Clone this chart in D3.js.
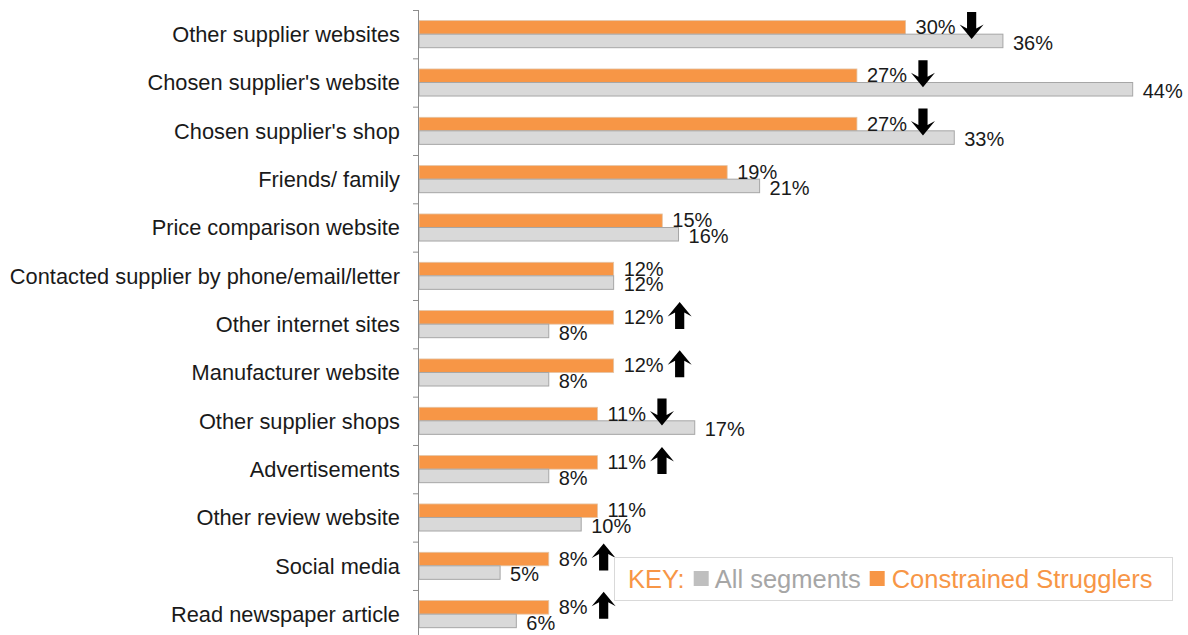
<!DOCTYPE html>
<html>
<head>
<meta charset="utf-8">
<script src="https://cdn.jsdelivr.net/npm/d3@7"></script>
<style>
  html, body { margin: 0; padding: 0; background: #fff; }
  svg { display: block; font-family: "Liberation Sans", Arial, sans-serif; }
</style>
</head>
<body>
<svg id="chart" width="1188" height="635"></svg>
<script>
// Sources used, share of each segment (%)
const categories = [
  "Other supplier websites",
  "Chosen supplier's website",
  "Chosen supplier's shop",
  "Friends/ family",
  "Price comparison website",
  "Contacted supplier by phone/email/letter",
  "Other internet sites",
  "Manufacturer website",
  "Other supplier shops",
  "Advertisements",
  "Other review website",
  "Social media",
  "Read newspaper article"
];
const constrainedStrugglers = [30, 27, 27, 19, 15, 12, 12, 12, 11, 11, 11, 8, 8];
const allSegments          = [36, 44, 33, 21, 16, 12, 8, 8, 17, 8, 10, 5, 6];
// Significant difference vs. all segments: -1 lower, +1 higher, 0 none
const significance         = [-1, -1, -1, 0, 0, 0, 1, 1, -1, 1, 0, 1, 1];

const seriesNames = ["All segments", "Constrained Strugglers"];
const keyTitle = "KEY:";

const ORANGE = "#F79646";
const GREY = "#D9D9D9";
const GREY_EDGE = "#A6A6A6";
const GREY_TEXT = "#A6A6A6";
const INK = "#1a1a1a";

const svg = d3.select("#chart");

const rows = categories.map((c, i) => ({
  name: c,
  cs: constrainedStrugglers[i],
  all: allSegments[i],
  sig: significance[i]
}));

const x = d3.scaleLinear().domain([0, 50]).range([419, 419 + 50 * 16.22]);

const yTop = 10, yBottom = 638.3;
const y = d3.scaleBand()
  .domain(categories)
  .range([yTop, yBottom])
  .paddingInner(0.44)
  .paddingOuter(0.22);
const sub = d3.scaleBand()
  .domain(["cs", "all"])
  .range([0, y.bandwidth()]);
const step = y.step();
const center = name => y(name) + y.bandwidth() / 2;

// Bars
const rowG = svg.append("g").selectAll("g.row").data(rows).join("g")
  .attr("class", "row")
  .attr("transform", d => `translate(0,${y(d.name)})`);

rowG.append("rect")
  .attr("x", x(0))
  .attr("y", sub("cs"))
  .attr("width", d => x(d.cs) - x(0))
  .attr("height", sub.bandwidth())
  .attr("fill", ORANGE)
  .attr("stroke", "#E3C4A6")
  .attr("stroke-width", 0.8);

rowG.append("rect")
  .attr("x", x(0))
  .attr("y", sub("all"))
  .attr("width", d => x(d.all) - x(0))
  .attr("height", sub.bandwidth())
  .attr("fill", GREY)
  .attr("stroke", GREY_EDGE)
  .attr("stroke-width", 1);

// Value labels
const LABEL_SIZE = 20;
const csLabels = rowG.append("text")
  .attr("x", d => x(d.cs) + 10)
  .attr("y", sub("cs") + sub.bandwidth() / 2 - 0.5)
  .attr("dy", "0.36em")
  .attr("font-size", LABEL_SIZE)
  .attr("fill", INK)
  .text(d => d.cs + "%");

rowG.append("text")
  .attr("x", d => x(d.all) + 10)
  .attr("y", sub("all") + sub.bandwidth() / 2 + 1.5)
  .attr("dy", "0.36em")
  .attr("font-size", LABEL_SIZE)
  .attr("fill", INK)
  .text(d => d.all + "%");

// Significance arrows (drawn pointing up, flipped for decreases)
function arrowPath() {
  const h = 13.5, head = 12, shaft = 4.6, neck = 1;
  const pts = [
    [0, -h], [head, neck], [shaft, neck - 4], [shaft, h], [-shaft, h], [-shaft, neck - 4], [-head, neck]
  ];
  return "M" + pts.map(p => p.join(",")).join("L") + "Z";
}
csLabels.each(function (d) {
  if (!d.sig) return;
  const w = this.getComputedTextLength();
  const cx = x(d.cs) + 10 + w + 16;
  const cy = sub("cs") + sub.bandwidth() / 2 - 2;
  d3.select(this.parentNode).append("path")
    .attr("d", arrowPath())
    .attr("fill", "#000")
    .attr("transform", `translate(${cx},${cy})` + (d.sig < 0 ? " scale(1,-1)" : ""));
});

// Axis line with ticks at category boundaries
const axis = svg.append("g").attr("stroke", "#8c8c8c").attr("stroke-width", 1);
axis.append("line")
  .attr("x1", x(0) - 0.5).attr("x2", x(0) - 0.5)
  .attr("y1", yTop).attr("y2", yBottom);
axis.selectAll("line.tick")
  .data(d3.range(categories.length + 1))
  .join("line")
  .attr("class", "tick")
  .attr("x1", x(0) - 6).attr("x2", x(0) - 0.5)
  .attr("y1", i => yTop + i * step + 0.5)
  .attr("y2", i => yTop + i * step + 0.5);

// Category labels
svg.append("g").selectAll("text")
  .data(categories)
  .join("text")
  .attr("x", 400)
  .attr("y", d => center(d))
  .attr("dy", "0.36em")
  .attr("text-anchor", "end")
  .attr("font-size", 21.8)
  .attr("fill", INK)
  .text(d => d);

// Key
const key = svg.append("g");
key.append("rect")
  .attr("x", 614.5).attr("y", 557.5)
  .attr("width", 558).attr("height", 43)
  .attr("fill", "#fff")
  .attr("stroke", "#D9D9D9");
const KEY_SIZE = 25.5;
const keyY = 587.5;
let kx = 628;
const t0 = key.append("text").attr("x", kx).attr("y", keyY)
  .attr("font-size", KEY_SIZE).attr("fill", ORANGE).text(keyTitle);
kx += t0.node().getComputedTextLength() + 9;
key.append("rect").attr("x", kx).attr("y", keyY - 16.5).attr("width", 15).attr("height", 15).attr("fill", "#BFBFBF");
kx += 21;
const t1 = key.append("text").attr("x", kx).attr("y", keyY)
  .attr("font-size", KEY_SIZE).attr("fill", GREY_TEXT).text(seriesNames[0]);
kx += t1.node().getComputedTextLength() + 9;
key.append("rect").attr("x", kx).attr("y", keyY - 16.5).attr("width", 15).attr("height", 15).attr("fill", ORANGE);
kx += 22;
key.append("text").attr("x", kx).attr("y", keyY)
  .attr("font-size", KEY_SIZE).attr("fill", ORANGE).text(seriesNames[1]);
</script>
</body>
</html>
